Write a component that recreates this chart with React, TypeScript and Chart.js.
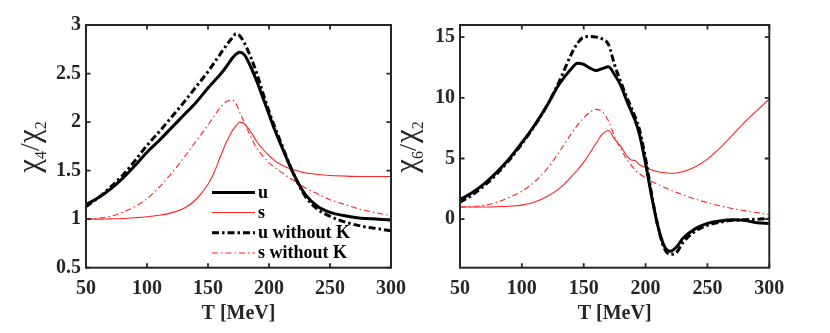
import React, { useEffect, useRef } from 'react';
import { Chart, registerables } from 'chart.js';

Chart.register(...registerables);

// ---------- data ----------
const T_LEFT = [50, 60, 70, 80, 90, 100, 110, 120, 130, 140, 150, 155, 160, 165, 170, 173, 176, 180, 185, 190, 195, 200, 205, 210, 215, 220, 225, 230, 240, 250, 260, 275, 290, 300];
const R42_U = [1.15, 1.22, 1.31, 1.42, 1.55, 1.69, 1.81, 1.94, 2.07, 2.20, 2.35, 2.42, 2.49, 2.57, 2.66, 2.70, 2.72, 2.69, 2.57, 2.42, 2.25, 2.08, 1.91, 1.76, 1.61, 1.47, 1.35, 1.25, 1.13, 1.07, 1.04, 1.01, 1.00, 0.99];
const R42_S = [1.0, 1.0, 1.003, 1.007, 1.015, 1.025, 1.04, 1.065, 1.11, 1.20, 1.36, 1.48, 1.64, 1.79, 1.91, 1.96, 2.0, 1.98, 1.90, 1.80, 1.72, 1.655, 1.60, 1.56, 1.53, 1.51, 1.49, 1.475, 1.46, 1.45, 1.445, 1.44, 1.44, 1.44];
const R42_U_NOK = [1.13, 1.22, 1.33, 1.45, 1.60, 1.76, 1.90, 2.05, 2.20, 2.36, 2.52, 2.61, 2.70, 2.79, 2.87, 2.91, 2.89, 2.81, 2.67, 2.50, 2.30, 2.11, 1.94, 1.78, 1.62, 1.47, 1.34, 1.23, 1.10, 1.03, 0.98, 0.93, 0.90, 0.88];
const R42_S_NOK = [1.0, 1.01, 1.03, 1.07, 1.13, 1.21, 1.33, 1.47, 1.63, 1.80, 1.97, 2.06, 2.15, 2.21, 2.225, 2.19, 2.10, 1.99, 1.85, 1.73, 1.65, 1.58, 1.53, 1.485, 1.44, 1.40, 1.36, 1.32, 1.26, 1.20, 1.16, 1.10, 1.06, 1.035];

const T_RIGHT = [50, 60, 70, 80, 90, 100, 110, 120, 130, 140, 145, 150, 155, 160, 165, 170, 175, 180, 185, 188, 192, 195, 200, 205, 210, 215, 220, 225, 230, 240, 250, 260, 270, 280, 290, 300];
const R62_U = [1.6, 2.2, 2.95, 3.9, 5.0, 6.3, 7.7, 9.3, 11.1, 12.4, 12.85, 12.75, 12.45, 12.25, 12.4, 12.55, 11.9, 11.0, 9.7, 9.0, 8.0, 7.0, 4.6, 1.8, -0.6, -2.2, -2.65, -2.3, -1.6, -0.8, -0.35, -0.15, -0.05, -0.1, -0.3, -0.35];
const R62_S = [1.0, 1.0, 1.0, 1.02, 1.07, 1.16, 1.40, 1.85, 2.5, 3.5, 4.05, 4.7, 5.45, 6.25, 7.0, 7.3, 6.6, 6.0, 5.2, 4.9, 4.8, 4.5, 4.25, 4.05, 3.9, 3.82, 3.78, 3.8, 3.9, 4.3, 4.95, 5.85, 6.9, 8.0, 8.95, 9.9];
const R62_U_NOK = [1.4, 2.0, 2.8, 3.75, 4.9, 6.2, 7.65, 9.3, 11.3, 13.6, 14.5, 15.0, 15.05, 15.0, 14.85, 14.4, 12.7, 11.3, 10.0, 9.3, 8.3, 7.4, 5.0, 2.0, -0.6, -2.4, -2.9, -2.75, -1.95, -1.0, -0.5, -0.25, -0.1, -0.05, 0.0, 0.05];
const R62_S_NOK = [1.0, 1.03, 1.15, 1.4, 1.8, 2.3, 3.05, 4.1, 5.5, 7.05, 7.75, 8.35, 8.8, 9.05, 8.85, 8.1, 6.8, 5.8, 4.9, 4.5, 4.0, 3.75, 3.4, 3.1, 2.87, 2.62, 2.4, 2.2, 2.0, 1.66, 1.36, 1.1, 0.88, 0.7, 0.53, 0.38];

const SERIES_LABELS = ['u', 's', 'u without K', 's without K'];
const X_TICKS = [50, 100, 150, 200, 250, 300];
const LEFT_Y_TICKS = [0.5, 1, 1.5, 2, 2.5, 3];
const RIGHT_Y_TICKS = [0, 5, 10, 15];

// ---------- styles ----------
const SERIF = "'Liberation Serif', 'Times New Roman', serif";
const AXIS_COLOR = '#262626';
const STYLES = [
  { color: '#000000', width: 3, dash: [] as number[], order: 0 },
  { color: '#ff2020', width: 1.1, dash: [] as number[], order: 2 },
  { color: '#000000', width: 3, dash: [7, 3, 2.5, 3], order: 1 },
  { color: '#ff2020', width: 1.1, dash: [6, 3, 1.5, 3], order: 3 },
];

function makeDatasets(T: number[], series: number[][]) {
  return series.map((ys, i) => ({
    label: SERIES_LABELS[i],
    data: T.map((t, j) => ({ x: t, y: ys[j] })),
    borderColor: STYLES[i].color,
    borderWidth: STYLES[i].width,
    borderDash: STYLES[i].dash,
    order: STYLES[i].order,
    pointRadius: 0,
    fill: false,
    cubicInterpolationMode: 'monotone' as const,
  }));
}

const framePlugin = {
  id: 'frame',
  afterDatasetsDraw(chart: any) {
    const { ctx, chartArea } = chart;
    const { left, right, top, bottom } = chartArea;
    const xs = chart.scales.x;
    const ys = chart.scales.y;
    ctx.save();
    ctx.setLineDash([]);
    ctx.strokeStyle = AXIS_COLOR;
    ctx.lineWidth = 2;
    ctx.strokeRect(left, top, right - left, bottom - top);
    ctx.lineWidth = 1.8;
    const len = 4.5;
    ctx.beginPath();
    xs.ticks.forEach((t: any) => {
      const px = xs.getPixelForValue(t.value);
      ctx.moveTo(px, bottom);
      ctx.lineTo(px, bottom - len);
      ctx.moveTo(px, top);
      ctx.lineTo(px, top + len);
    });
    ys.ticks.forEach((t: any) => {
      const py = ys.getPixelForValue(t.value);
      ctx.moveTo(left, py);
      ctx.lineTo(left + len, py);
      ctx.moveTo(right, py);
      ctx.lineTo(right - len, py);
    });
    ctx.stroke();
    ctx.restore();
  },
};

function yLabelPlugin(sub: string, baseX: number, centerY: number) {
  return {
    id: 'ylabel',
    afterDraw(chart: any) {
      const ctx = chart.ctx;
      const parts = [
        { t: 'χ', size: 31, dy: 0 },
        { t: sub, size: 16, dy: 7 },
        { t: '/', size: 28, dy: 0 },
        { t: 'χ', size: 31, dy: 0 },
        { t: '2', size: 16, dy: 7 },
      ];
      ctx.save();
      let total = 0;
      const widths = parts.map((p) => {
        ctx.font = `${p.size}px ${SERIF}`;
        const w = ctx.measureText(p.t).width;
        total += w;
        return w;
      });
      ctx.translate(baseX, centerY);
      ctx.rotate(-Math.PI / 2);
      ctx.fillStyle = AXIS_COLOR;
      ctx.textAlign = 'left';
      ctx.textBaseline = 'alphabetic';
      let x = -total / 2;
      parts.forEach((p, i) => {
        ctx.font = `${p.size}px ${SERIF}`;
        ctx.fillText(p.t, x, p.dy);
        x += widths[i];
      });
      ctx.restore();
    },
  };
}

const legendPlugin = {
  id: 'customLegend',
  afterDraw(chart: any) {
    const ctx = chart.ctx;
    const rows = [192.5, 212.5, 232.7, 253];
    ctx.save();
    SERIES_LABELS.forEach((label, i) => {
      const st = STYLES[i];
      const y = rows[i];
      ctx.beginPath();
      ctx.setLineDash(st.dash);
      ctx.strokeStyle = st.color;
      ctx.lineWidth = st.width;
      ctx.moveTo(212, y);
      ctx.lineTo(255, y);
      ctx.stroke();
      ctx.setLineDash([]);
      ctx.fillStyle = '#000';
      ctx.font = `bold 18px ${SERIF}`;
      ctx.textAlign = 'left';
      ctx.textBaseline = 'alphabetic';
      ctx.fillText(label, 258, y + 5);
    });
    ctx.restore();
  },
};

function buildConfig(opts: {
  T: number[];
  series: number[][];
  yMin: number;
  yMax: number;
  yTicks: number[];
  yWidth: number;
  padRight: number;
  plugins: any[];
}) {
  return {
    type: 'line' as const,
    data: { datasets: makeDatasets(opts.T, opts.series) },
    options: {
      animation: false as const,
      responsive: false,
      maintainAspectRatio: false,
      layout: { padding: { left: 0, top: 25, right: opts.padRight, bottom: 0 } },
      plugins: { legend: { display: false }, tooltip: { enabled: false } },
      scales: {
        x: {
          type: 'linear' as const,
          min: 50,
          max: 300,
          afterBuildTicks: (s: any) => {
            s.ticks = X_TICKS.map((v) => ({ value: v }));
          },
          afterFit: (s: any) => {
            s.height = 65.3;
          },
          grid: { display: false, drawTicks: false },
          border: { display: false },
          ticks: {
            padding: 9,
            color: AXIS_COLOR,
            font: { family: SERIF, size: 20, weight: 'bold' as const },
            maxRotation: 0,
            callback: (v: any) => String(v),
          },
          title: {
            display: true,
            text: 'T [MeV]',
            color: AXIS_COLOR,
            font: { family: SERIF, size: 20, weight: 'bold' as const },
            padding: { top: 0, bottom: 7 },
          },
        },
        y: {
          type: 'linear' as const,
          min: opts.yMin,
          max: opts.yMax,
          afterBuildTicks: (s: any) => {
            s.ticks = opts.yTicks.map((v) => ({ value: v }));
          },
          afterFit: (s: any) => {
            s.width = opts.yWidth;
          },
          grid: { display: false, drawTicks: false },
          border: { display: false },
          ticks: {
            padding: 5,
            color: AXIS_COLOR,
            font: { family: SERIF, size: 20, weight: 'bold' as const },
            callback: (v: any) => String(v),
          },
        },
      },
    },
    plugins: opts.plugins,
  };
}

export default function App() {
  const leftRef = useRef<HTMLCanvasElement | null>(null);
  const rightRef = useRef<HTMLCanvasElement | null>(null);

  useEffect(() => {
    const left = new Chart(
      leftRef.current as HTMLCanvasElement,
      buildConfig({
        T: T_LEFT,
        series: [R42_U, R42_S, R42_U_NOK, R42_S_NOK],
        yMin: 0.5,
        yMax: 3,
        yTicks: LEFT_Y_TICKS,
        yWidth: 86,
        padRight: 415 - 394.3,
        plugins: [framePlugin, yLabelPlugin('4', 39, 147), legendPlugin],
      }) as any
    );
    const right = new Chart(
      rightRef.current as HTMLCanvasElement,
      buildConfig({
        T: T_RIGHT,
        series: [R62_U, R62_S, R62_U_NOK, R62_S_NOK],
        yMin: -4,
        yMax: 16,
        yTicks: RIGHT_Y_TICKS,
        yWidth: 60,
        padRight: 430 - 369.3,
        plugins: [framePlugin, yLabelPlugin('6', 16, 147)],
      }) as any
    );
    return () => {
      left.destroy();
      right.destroy();
    };
  }, []);

  return (
    <div style={{ position: 'absolute', left: 0, top: 0, width: 830, height: 333, background: '#fff' }}>
      <canvas
        ref={leftRef}
        width={415}
        height={333}
        style={{ position: 'absolute', left: 0, top: 0, width: 415, height: 333 }}
      />
      <canvas
        ref={rightRef}
        width={430}
        height={333}
        style={{ position: 'absolute', left: 400, top: 0, width: 430, height: 333 }}
      />
    </div>
  );
}
